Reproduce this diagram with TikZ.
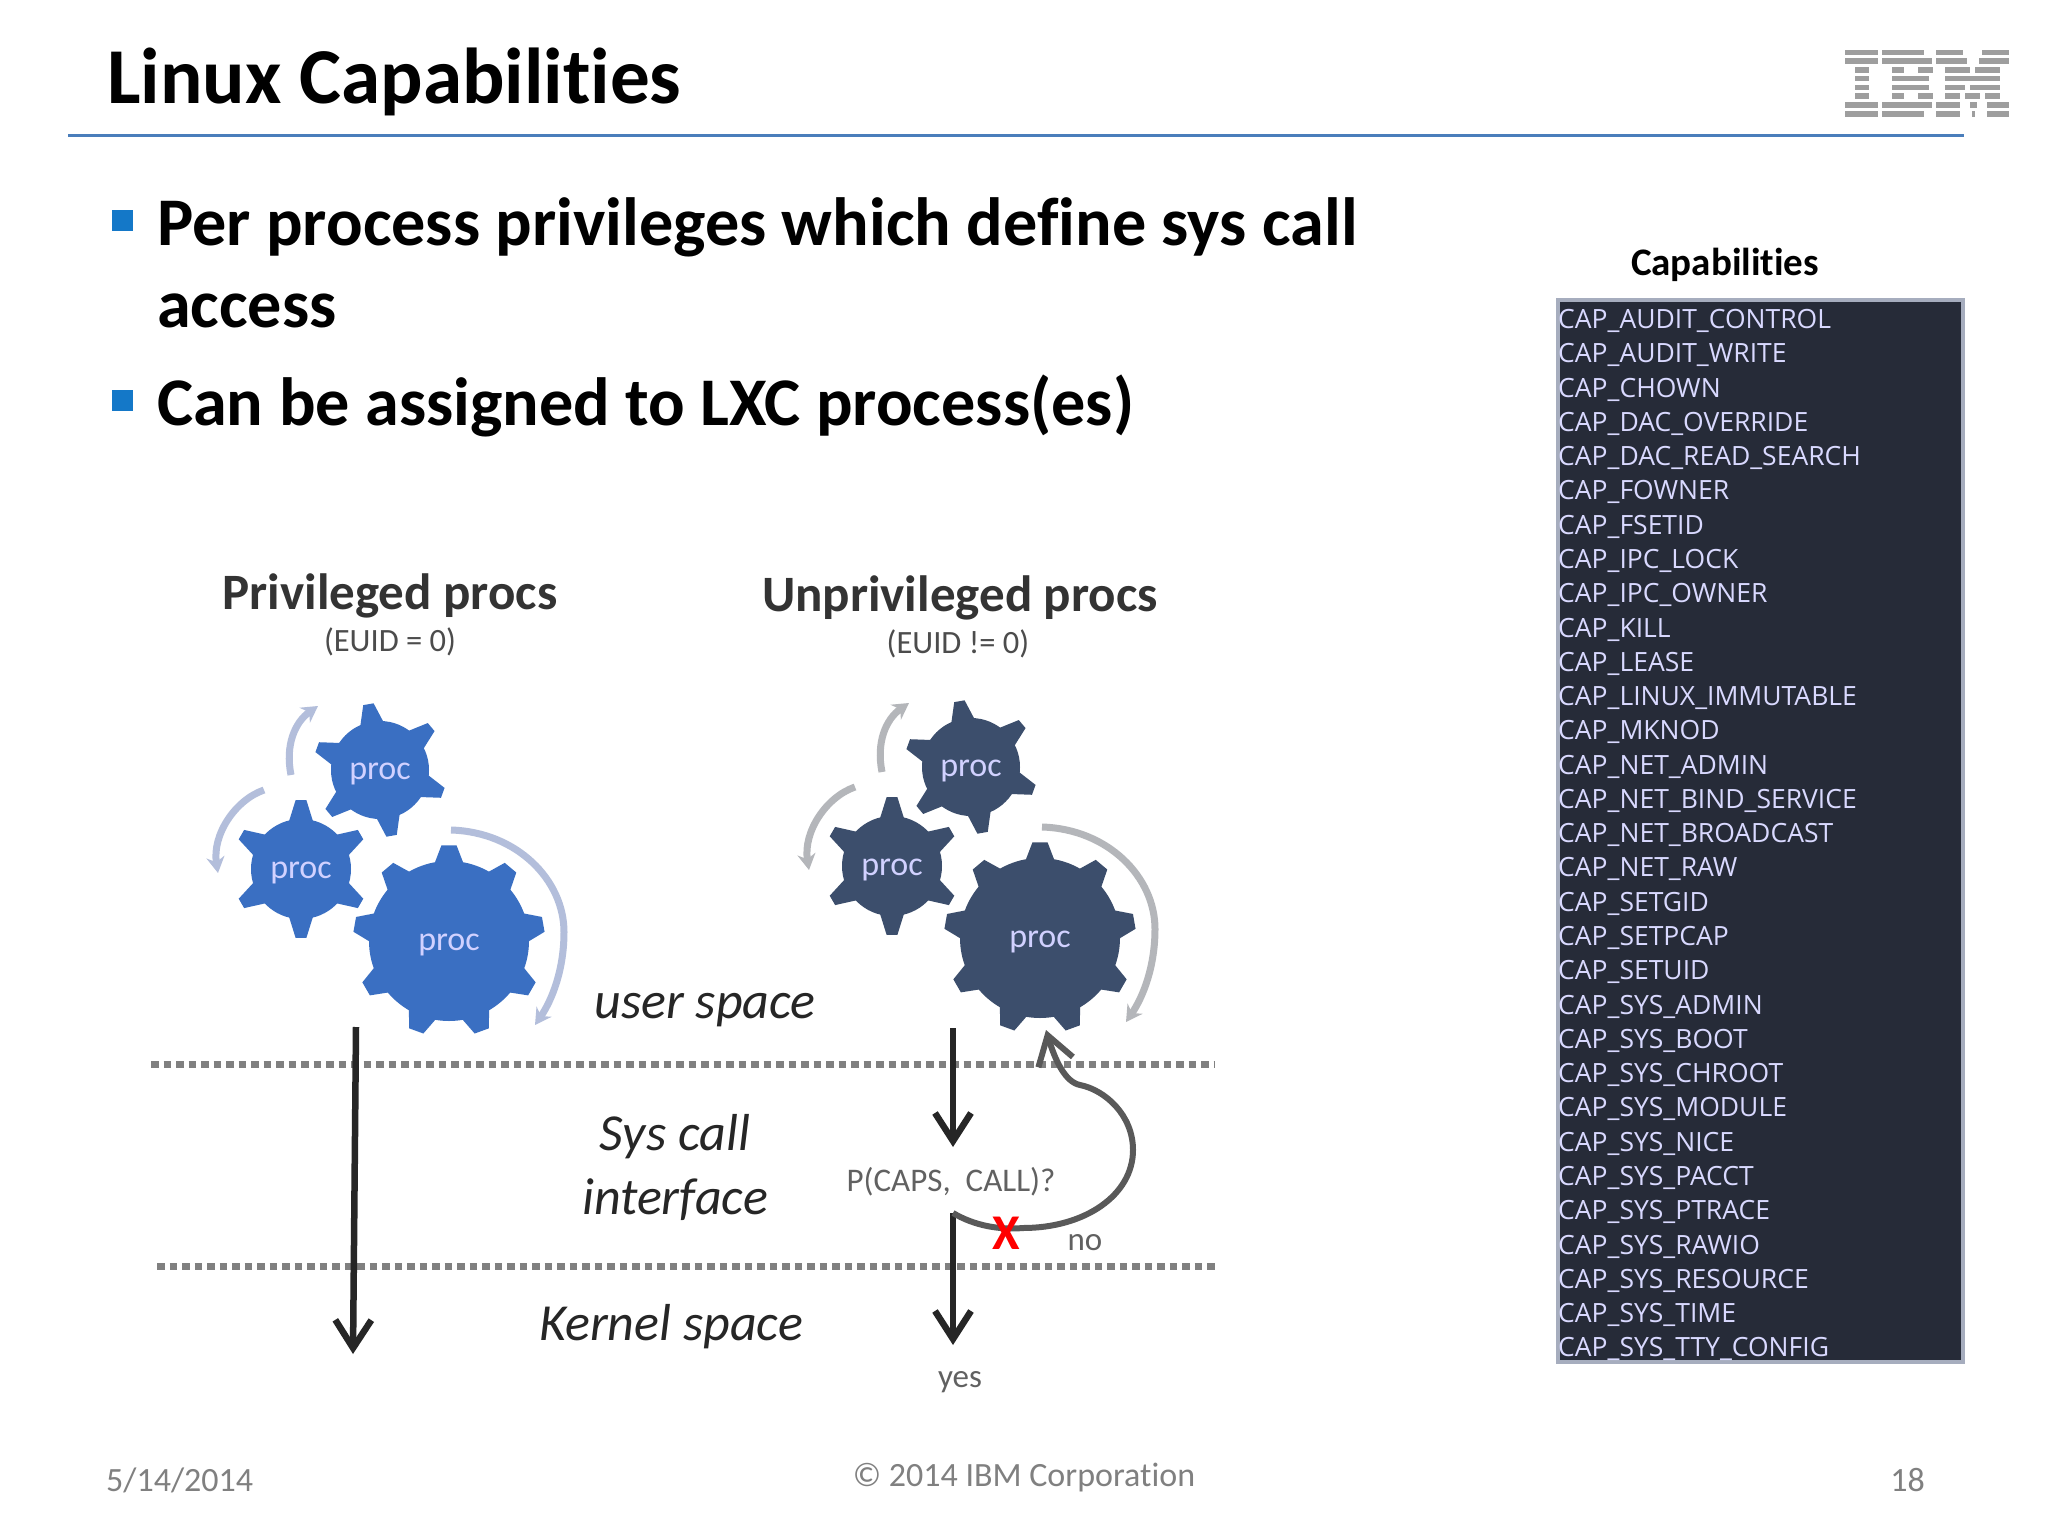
\documentclass[tikz,border=0pt]{standalone}
\usepackage{fontspec}
\setmainfont{Carlito}[Ligatures=NoCommon]
\newfontfamily\listfont{Open Sans}
\usetikzlibrary{arrows.meta}
\definecolor{procblue}{HTML}{3A6FC2}
\definecolor{procdark}{HTML}{3C4E6C}
\definecolor{arcblue}{HTML}{B3BEDB}
\definecolor{arcgray}{HTML}{B4B6BA}
\definecolor{rulecol}{HTML}{4A7EBB}
\definecolor{bulletcol}{HTML}{1478C8}
\definecolor{panelcol}{HTML}{262B38}
\definecolor{panelline}{HTML}{A6ADBE}
\tikzset{
	titletext/.style={anchor=base west,inner sep=0,font=\fontsize{79.2}{79.2}\selectfont\bfseries},
	bullettext/.style={anchor=base west,inner sep=0,font=\fontsize{68.2}{68.2}\selectfont\bfseries},
	bulletmark/.style={fill=bulletcol,inner sep=0,minimum size=21},
	headtext/.style={inner sep=0,font=\fontsize{51}{51}\selectfont\bfseries,text=black!80},
	subtext/.style={inner sep=0,font=\fontsize{32.5}{32.5}\selectfont,text=black!70},
	spacetext/.style={inner sep=0,font=\fontsize{52}{52}\selectfont\itshape,text=black!85},
	smalltext/.style={inner sep=0,font=\fontsize{33}{33}\selectfont,text=black!62},
	foottext/.style={inner sep=0,font=\fontsize{34}{34}\selectfont,text=black!50},
	captext/.style={anchor=base west,inner sep=0,font=\listfont\fontsize{26.5}{26.5}\selectfont,text=white!85!blue},
	proctext/.style={inner sep=0,font=\fontsize{34}{34}\selectfont,text=white!82!blue},
	spaceline/.style={line width=7,draw=black!50,dash pattern=on 7.5 off 5},
	callarrow/.style={line width=6.5,draw=black!85,-{Straight Barb[length=28,width=36]}},
	denyarrow/.style={line width=6,draw=black!65,-{Straight Barb[length=28,width=36]}},
}
\newcommand{\drawgear}[9]{
	\fill[#8,shift={(#2,#3)}] (0,0) circle (#4);
	\foreach \k in {1,...,#6} {
		\pgfmathsetmacro{\a}{#7+(\k-1)*360/#6}
		\fill[#8,shift={(#2,#3)}] (\a-#9:#4-2) -- (\a-4.5:#5) -- (\a+4.5:#5) -- (\a+#9:#4-2) -- cycle;
	}
	\node[proctext] (#1) at (#2,#3+4) {proc};
}
\begin{document}
\begin{tikzpicture}[x=1pt,y=-1pt]
	\useasboundingbox (0,0) rectangle (2048,1536);
	\fill[white] (0,0) rectangle (2048,1536);
	\node[titletext] (title) at (107,104) {Linux Capabilities};
	\coordinate (ruleL) at (68,136);
	\coordinate (ruleR) at (1964,136);
	\draw[rulecol,line width=3] (ruleL) -- (ruleR);
	\begin{scope}[shift={(1520,20)},x=0.337pt,y=-0.3333pt]
		\foreach \row/\segs in {97/{965/1062,1075/1200,1235/1315,1372/1452},123/{965/1062,1075/1222,1235/1325,1362/1452},150/{995/1035,1105/1140,1182/1225,1262/1335,1350/1425},175/{995/1035,1105/1215,1262/1425},202/{995/1035,1105/1215,1262/1320,1335/1425},228/{995/1035,1105/1140,1182/1225,1262/1305,1320/1365,1380/1425},255/{965/1062,1075/1222,1235/1305,1335/1355,1385/1452},282/{965/1062,1075/1200,1235/1305,1340/1350,1385/1452}} {
			\foreach \xa/\xb in \segs {
				\fill[black!38] (\xa,\row-8) rectangle (\xb,\row+8);
			}
		}
	\end{scope}
	\node[bulletmark] (mark1) at (122,220) {};
	\node[bullettext] (bullet1) at (157,245) {Per process privileges which define sys call};
	\node[bullettext] (bullet1b) at (157,327) {access};
	\node[bulletmark] (mark2) at (122,400) {};
	\node[bullettext] (bullet2) at (157,425) {Can be assigned to LXC process(es)};
	\node[headtext] (privhead) at (390,596) {Privileged procs};
	\node[subtext] (privsub) at (390,642) {(EUID = 0)};
	\node[headtext] (unprivhead) at (960,598) {Unprivileged procs};
	\node[subtext] (unprivsub) at (958,644) {(EUID != 0)};
	\foreach \grp/\dx/\dy/\gearcol/\arccol in {L/0/0/procblue/arcblue,R/591/-3/procdark/arcgray} {
		\begin{scope}[shift={(\dx,\dy)}]
			\draw[\arccol,line width=7,-{Stealth[length=16,width=18]}] (291,775) .. controls (285,745) and (295,722) .. (318,706);
			\draw[\arccol,line width=7,-{Stealth[length=16,width=18]}] (264,790) .. controls (235,800) and (212,835) .. (218,873);
			\draw[\arccol,line width=7,-{Stealth[length=16,width=18]}] (451,830) .. controls (517,832) and (564,880) .. (564,932) .. controls (564,970) and (552,1000) .. (535,1025);
			\drawgear{top\grp}{380}{770}{49}{67}{6}{-100}{\gearcol}{15}
			\drawgear{mid\grp}{301}{869}{50}{69}{6}{-90}{\gearcol}{15}
			\drawgear{big\grp}{449}{941}{80}{96}{9}{-90}{\gearcol}{11}
		\end{scope}
	}
	\coordinate (upL) at (151,1064);
	\coordinate (upR) at (1214,1064);
	\coordinate (lowL) at (157,1266);
	\coordinate (lowR) at (1218,1266);
	\draw[spaceline] (upL) -- (upR);
	\draw[spaceline] (lowL) -- (lowR);
	\node[spacetext] (userspace) at (705,1010) {user space};
	\node[spacetext] (syscall) at (675,1137) {Sys call};
	\node[spacetext] (iface) at (675,1200) {interface};
	\node[spacetext] (kernel) at (671,1327) {Kernel space};
	\node[smalltext] (pcheck) at (951,1182) {P(CAPS,\ \ CALL)?};
	\node[smalltext] (nolabel) at (1085,1243) {no};
	\node[smalltext] (yeslabel) at (960,1382) {yes};
	\coordinate (privtop) at (356,1027);
	\coordinate (privend) at (353,1354);
	\coordinate (unpriva) at (953,1028);
	\coordinate (unprivb) at (953,1147);
	\coordinate (unprivc) at (953,1213);
	\coordinate (unprivd) at (953,1345);
	\coordinate (denytip) at (1046,1030);
	\draw[callarrow] (privtop) -- (privend);
	\draw[callarrow] (unpriva) -- (unprivb);
	\draw[callarrow] (unprivc) -- (unprivd);
	\draw[denyarrow] (unprivc) .. controls (975,1226) and (1000,1230) .. (1023,1228) .. controls (1085,1228) and (1133,1195) .. (1133,1150) .. controls (1133,1115) and (1105,1090) .. (1080,1085) .. controls (1065,1082) and (1055,1060) .. (denytip);
	\node[inner sep=0,text=red,font=\fontsize{50}{50}\selectfont\bfseries] (deny) at (1006,1233) {X};
	\node[inner sep=0,font=\fontsize{39}{39}\selectfont\bfseries] (caphead) at (1725,265) {Capabilities};
	\node[draw=panelline,line width=4,fill=panelcol,inner sep=0,minimum width=405,minimum height=1062] (panel) at (1760,831) {};
	\foreach \capname [count=\i from 0] in {CAP\_AUDIT\_CONTROL,CAP\_AUDIT\_WRITE,CAP\_CHOWN,CAP\_DAC\_OVERRIDE,CAP\_DAC\_READ\_SEARCH,CAP\_FOWNER,CAP\_FSETID,CAP\_IPC\_LOCK,CAP\_IPC\_OWNER,CAP\_KILL,CAP\_LEASE,CAP\_LINUX\_IMMUTABLE,CAP\_MKNOD,CAP\_NET\_ADMIN,CAP\_NET\_BIND\_SERVICE,CAP\_NET\_BROADCAST,CAP\_NET\_RAW,CAP\_SETGID,CAP\_SETPCAP,CAP\_SETUID,CAP\_SYS\_ADMIN,CAP\_SYS\_BOOT,CAP\_SYS\_CHROOT,CAP\_SYS\_MODULE,CAP\_SYS\_NICE,CAP\_SYS\_PACCT,CAP\_SYS\_PTRACE,CAP\_SYS\_RAWIO,CAP\_SYS\_RESOURCE,CAP\_SYS\_TIME,CAP\_SYS\_TTY\_CONFIG} {
		\node[captext] (cap\i) at (1558,328.5+34.28*\i) {\capname};
	}
	\node[foottext,anchor=west] (footdate) at (106,1480) {5/14/2014};
	\node[foottext] (footcopy) at (1024,1478) {© 2014 IBM Corporation};
	\node[foottext,anchor=east] (footpage) at (1925,1480) {18};
\end{tikzpicture}
\end{document}
